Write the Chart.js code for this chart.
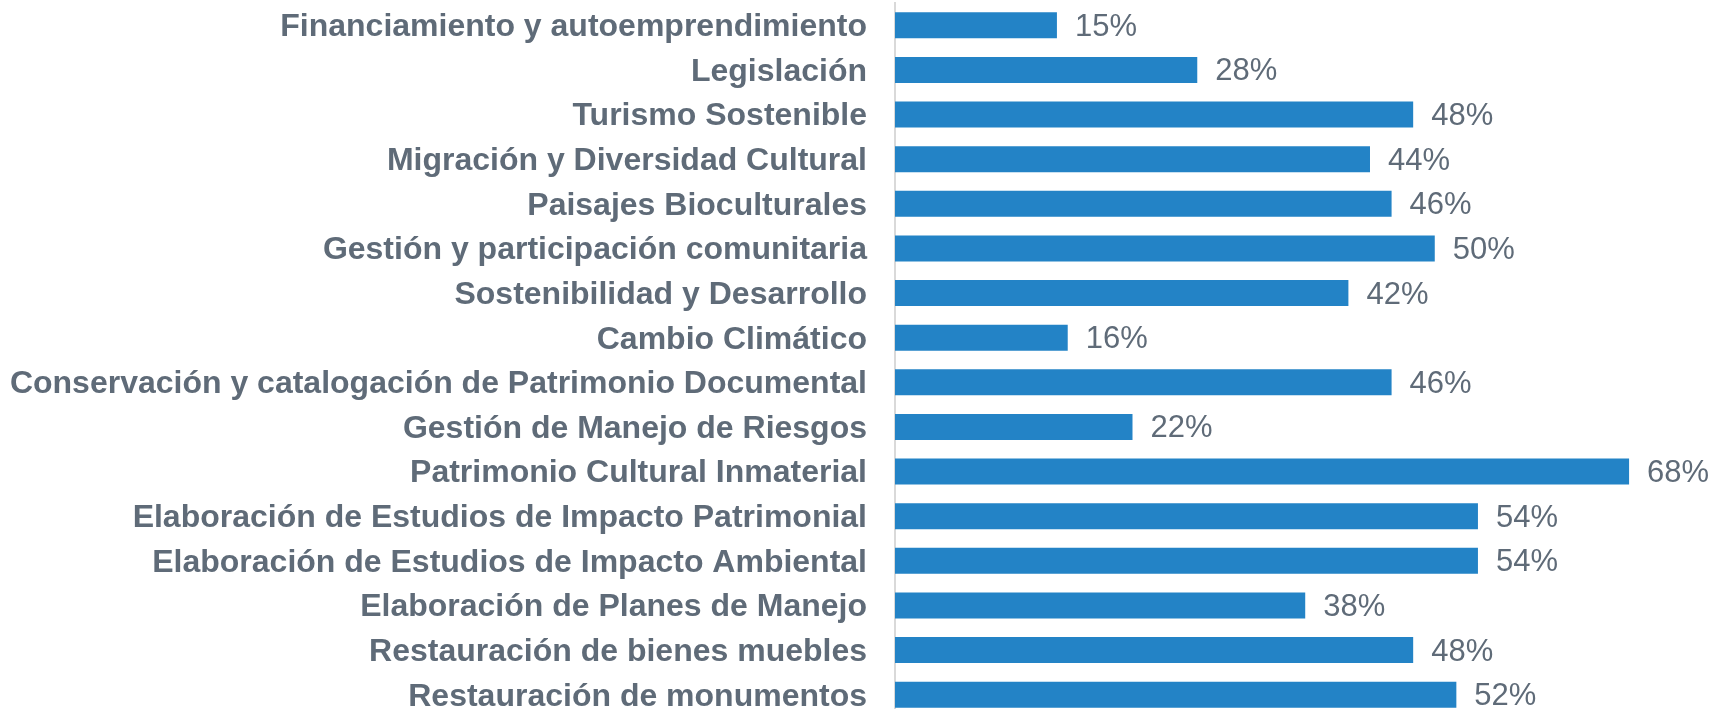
<!DOCTYPE html>
<html>
<head>
<meta charset="utf-8">
<script src="https://cdn.jsdelivr.net/npm/chart.js@4"></script>
<style>
html,body{margin:0;padding:0;background:#ffffff;overflow:hidden;}
#wrap{width:1723px;height:717px;}
</style>
</head>
<body>
<div id="wrap"><canvas id="c" width="1723" height="717"></canvas></div>
<script>
const categories = [
  "Financiamiento y autoemprendimiento",
  "Legislación",
  "Turismo Sostenible",
  "Migración y Diversidad Cultural",
  "Paisajes Bioculturales",
  "Gestión y participación comunitaria",
  "Sostenibilidad y Desarrollo",
  "Cambio Climático",
  "Conservación y catalogación de Patrimonio Documental",
  "Gestión de Manejo de Riesgos",
  "Patrimonio Cultural Inmaterial",
  "Elaboración de Estudios de Impacto Patrimonial",
  "Elaboración de Estudios de Impacto Ambiental",
  "Elaboración de Planes de Manejo",
  "Restauración de bienes muebles",
  "Restauración de monumentos"
];
const percentages = [15, 28, 48, 44, 46, 50, 42, 16, 46, 22, 68, 54, 54, 38, 48, 52];

const FONT = "'Liberation Sans', Arial, sans-serif";
const TEXT_COLOR = "#5f6b78";

const valueLabels = {
  id: 'valueLabels',
  afterDatasetsDraw(chart) {
    const ctx = chart.ctx;
    const meta = chart.getDatasetMeta(0);
    ctx.save();
    ctx.font = "31px " + FONT;
    ctx.fillStyle = TEXT_COLOR;
    ctx.textAlign = 'left';
    ctx.textBaseline = 'middle';
    meta.data.forEach((bar, i) => {
      ctx.fillText(percentages[i] + '%', bar.x + 18, bar.y + 2);
    });
    ctx.restore();
  }
};

new Chart(document.getElementById('c'), {
  type: 'bar',
  data: {
    labels: categories,
    datasets: [{
      data: percentages,
      backgroundColor: '#2383c6',
      borderWidth: 0,
      barPercentage: 0.58,
      categoryPercentage: 1.0
    }]
  },
  options: {
    indexAxis: 'y',
    responsive: false,
    animation: false,
    devicePixelRatio: 1,
    layout: { padding: { top: 3, right: 0, bottom: 0, left: 0 } },
    plugins: {
      legend: { display: false },
      tooltip: { enabled: false }
    },
    scales: {
      x: {
        display: false,
        min: 0,
        max: 76.7
      },
      y: {
        afterFit(scale) {
          scale.width = 895;
          scale.paddingTop = 0;
          scale.paddingBottom = 0;
        },
        grid: { display: false, drawTicks: false },
        border: { display: true, color: '#d9d9d9', width: 2 },
        ticks: {
          padding: 28,
          labelOffset: 2,
          color: TEXT_COLOR,
          font: { family: FONT, size: 32, weight: 'bold' },
          autoSkip: false
        }
      }
    }
  },
  plugins: [valueLabels]
});
</script>
</body>
</html>
